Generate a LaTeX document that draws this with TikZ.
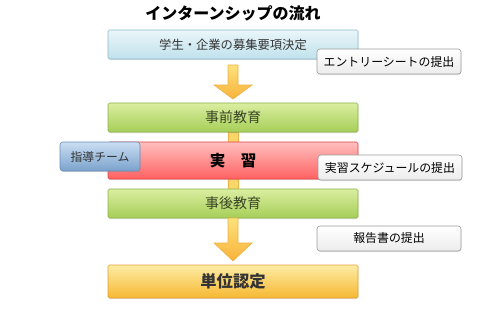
\documentclass[tikz,border=0pt]{standalone}
\usepackage{fontspec}
\setmainfont{Noto Sans CJK JP}
\usetikzlibrary{calc,positioning,backgrounds,shadows}
\definecolor{ink}{RGB}{51,51,51}
\definecolor{eduink}{RGB}{58,68,36}
\definecolor{planfilltop}{RGB}{234,246,250}
\definecolor{planfillbot}{RGB}{192,225,235}
\definecolor{planline}{RGB}{140,186,202}
\definecolor{eduup}{RGB}{218,238,160}
\definecolor{edudown}{RGB}{166,206,88}
\definecolor{eduline}{RGB}{140,176,74}
\definecolor{trainup}{RGB}{255,190,190}
\definecolor{traindown}{RGB}{255,98,98}
\definecolor{trainline}{RGB}{222,64,64}
\definecolor{teamup}{RGB}{202,222,242}
\definecolor{teamdown}{RGB}{122,162,204}
\definecolor{teamline}{RGB}{104,140,182}
\definecolor{creditup}{RGB}{253,236,165}
\definecolor{creditdown}{RGB}{246,184,50}
\definecolor{creditline}{RGB}{226,160,52}
\definecolor{noteline}{RGB}{155,155,155}
\definecolor{notedown}{RGB}{236,236,236}
\definecolor{arrowup}{RGB}{253,226,124}
\definecolor{arrowdown}{RGB}{248,178,58}
\definecolor{arrowline}{RGB}{238,176,66}
\definecolor{stripefill}{RGB}{248,214,106}
\tikzset{
  box/.style={line width=0.6pt,rounded corners=1.5pt,minimum width=250pt,inner sep=0pt,outer sep=0pt,
    text=ink,font=\fontsize{12.3}{14}\selectfont,
    drop shadow={shadow xshift=0.4pt,shadow yshift=-1pt,opacity=0.25}},
  planbox/.style={box,draw=planline,top color=planfilltop,bottom color=planfillbot,minimum height=29pt},
  edubox/.style={box,draw=eduline,top color=eduup,bottom color=edudown,minimum height=29pt,
    text=eduink,font=\fontsize{14}{16}\selectfont},
  trainbox/.style={box,draw=trainline,top color=trainup,bottom color=traindown,minimum height=37pt,
    text=black,font=\fontsize{15.5}{17}\selectfont\bfseries},
  creditbox/.style={box,draw=creditline,top color=creditup,bottom color=creditdown,minimum height=33pt,
    font=\fontsize{16.3}{18}\selectfont\bfseries},
  teambox/.style={box,draw=teamline,top color=teamup,bottom color=teamdown,minimum width=80pt,minimum height=29pt,
    rounded corners=3pt,font=\fontsize{11.8}{13}\selectfont},
  notebox/.style={box,draw=noteline,top color=white,bottom color=notedown,minimum width=144pt,minimum height=25pt,
    rounded corners=3pt,font=\fontsize{11.9}{13}\selectfont,text=black,anchor=north west},
  bigarrow/.style={draw=arrowline,line width=0.6pt,top color=arrowup,bottom color=arrowdown,line join=miter},
  stripe/.style={draw=arrowline,line width=0.5pt,fill=stripefill}
}
\begin{document}
\begin{tikzpicture}[x=1pt,y=-1pt]
  \useasboundingbox (0,0) rectangle (487,309);
  \node[font=\fontsize{16}{18}\selectfont\bfseries] (title) at (233,13) {インターンシップの流れ};
  \node[planbox] (plan) at (233,44.5) {学生・企業の募集要項決定};
  \node[edubox,below=44pt of plan] (prep) {事前教育};
  \node[trainbox,below=10pt of prep] (train) {実　習};
  \node[edubox,below=10pt of train] (post) {事後教育};
  \node[creditbox,below=47pt of post] (credit) {単位認定};
  \node[teambox,anchor=north west] (team) at ($(train.north west)+(-48,0)$) {指導チーム};
  \node[notebox] (entry) at ($(plan.south east)+(-41,-10)$) {エントリーシートの提出};
  \node[notebox] (sched) at ($(train.south east)+(-40,-24)$) {実習スケジュールの提出};
  \node[notebox] (report) at ($(post.south east)+(-41,8)$) {報告書の提出};
  % arrows between the stages
  \begin{scope}[on background layer]
    \draw[stripe] ($(prep.south)+(-5,0)$) rectangle ($(post.north)+(5,0)$);
  \end{scope}
  \path[bigarrow] ($(plan.south)+(-5,6)$) -- ($(prep.north)+(-5,-18)$) -- ($(prep.north)+(-19,-18)$)
    -- ($(prep.north)+(0,-4)$) -- ($(prep.north)+(19,-18)$) -- ($(prep.north)+(5,-18)$)
    -- ($(plan.south)+(5,6)$) -- cycle;
  \path[bigarrow] ($(post.south)+(-5,0)$) -- ($(credit.north)+(-5,-22)$) -- ($(credit.north)+(-19,-22)$)
    -- ($(credit.north)+(0,-4)$) -- ($(credit.north)+(19,-22)$) -- ($(credit.north)+(5,-22)$)
    -- ($(post.south)+(5,0)$) -- cycle;
\end{tikzpicture}
\end{document}
